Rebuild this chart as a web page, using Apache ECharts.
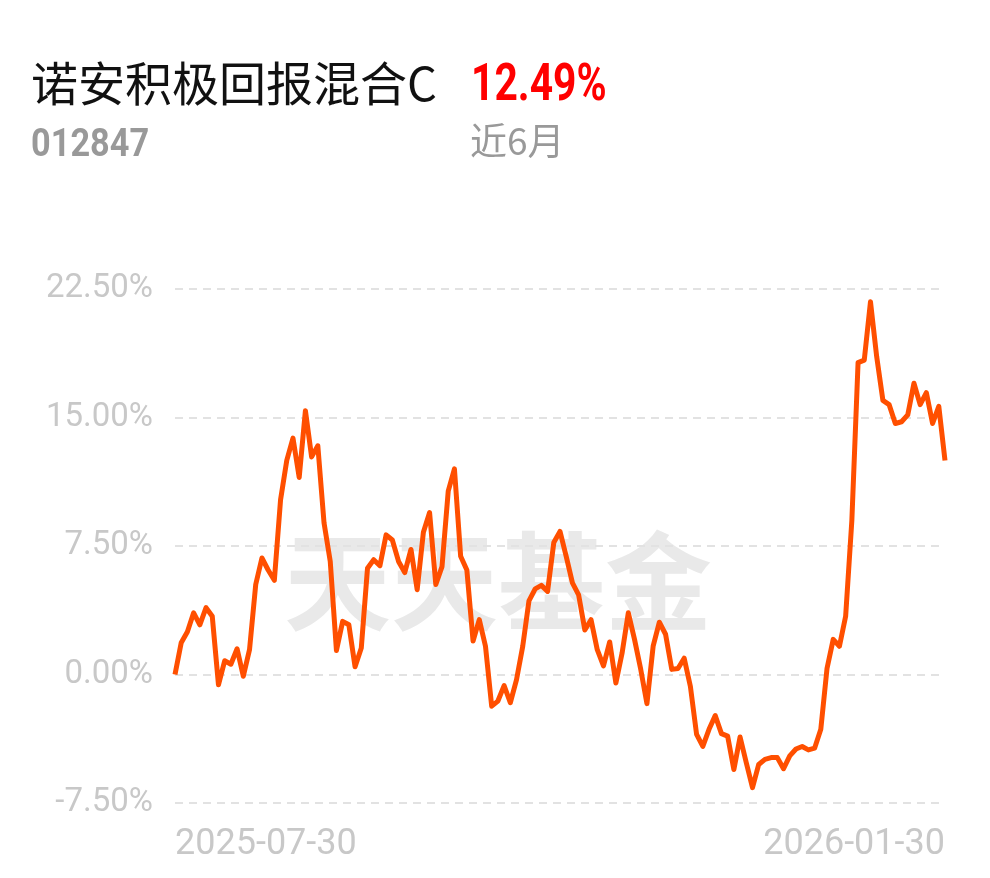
<!DOCTYPE html>
<html><head><meta charset="utf-8">
<script src="https://cdn.jsdelivr.net/npm/echarts@6/dist/echarts.min.js"></script>
<style>html,body{margin:0;padding:0;background:#fff}#c{width:990px;height:878px}</style>
</head><body><div id="c"></div>
<script>
const fundName = '诺安积极回报混合C';
const fundCode = '012847';
const periodReturn = '12.49%';
const periodLabel = '近6月';
const yTicks = [-7.5, 0, 7.5, 15, 22.5];
const startDate = '2025-07-30';
const endDate = '2026-01-30';
const holidays = ['2025-10-01','2025-10-02','2025-10-03','2025-10-06','2025-10-07','2025-10-08','2026-01-01','2026-01-02'];
const returns = [
  0.00, 1.85, 2.5, 3.6, 2.9, 3.9, 3.4, -0.6, 0.8, 0.6,
  1.5, -0.1, 1.45, 5.25, 6.8, 6.1, 5.5, 10.2, 12.5, 13.8,
  11.5, 15.4, 12.7, 13.35, 8.85, 6.6, 1.4, 3.1, 2.9, 0.45,
  1.55, 6.2, 6.7, 6.35, 8.15, 7.85, 6.6, 5.95, 7.3, 4.95,
  8.3, 9.45, 5.25, 6.3, 10.7, 12.0, 6.9, 6.1, 1.95, 3.2,
  1.65, -1.85, -1.55, -0.65, -1.65, -0.3, 1.65, 4.3, 5.0, 5.2,
  4.85, 7.7, 8.35, 6.9, 5.35, 4.65, 2.6, 3.2, 1.45, 0.5,
  1.9, -0.5, 1.25, 3.6, 2.05, 0.3, -1.7, 1.65, 3.05, 2.35,
  0.3, 0.35, 0.95, -0.7, -3.5, -4.2, -3.2, -2.4, -3.45, -3.6,
  -5.55, -3.65, -5.15, -6.6, -5.25, -4.95, -4.85, -4.85, -5.5, -4.75,
  -4.35, -4.2, -4.4, -4.3, -3.2, 0.35, 2.05, 1.65, 3.4, 9.0,
  18.2, 18.35, 21.75, 18.55, 16.0, 15.75, 14.65, 14.75, 15.15, 17.0,
  15.75, 16.45, 14.65, 15.65, 12.49
];
// trading-day categories
const dates = [];
(function(){
  const d = new Date(startDate + 'T00:00:00Z');
  const end = new Date(endDate + 'T00:00:00Z');
  while (d <= end) {
    const s = d.toISOString().slice(0,10);
    const wd = d.getUTCDay();
    if (wd !== 0 && wd !== 6 && holidays.indexOf(s) < 0) dates.push(s);
    d.setUTCDate(d.getUTCDate() + 1);
  }
})();
const n = Math.min(dates.length, returns.length);
const cats = dates.slice(0, n);
cats[n-1] = endDate;

const chart = echarts.init(document.getElementById('c'));
chart.setOption({
  animation: false,
  backgroundColor: '#fff',
  graphic: [
    {type:'text', x: 31, y: 60, style:{text: fundName, font: 'normal 47px "Noto Sans CJK SC"', fill:'#111'}},
    {type:'text', x: 471, y: 62, scaleX: 0.8, style:{text: periodReturn, font: 'bold 51px Roboto', fill:'#ff0000'}},
    {type:'text', x: 31, y: 127, scaleX: 0.88, style:{text: fundCode, font: 'bold 39px Roboto', fill:'#999'}},
    {type:'text', x: 470, y: 122, style:{text: periodLabel, font: 'normal 37px "Noto Sans CJK SC"', fill:'#999'}},
    {type:'text', x: 284, y: 528, z: 0, style:{text: '天天基金', font: 'bold 107px "Noto Sans CJK SC"', fill:'#e9e9e9'}}
  ],
  grid: {left: 175, right: 45, top: 289, bottom: 75, containLabel: false},
  xAxis: {
    type: 'category',
    data: cats,
    boundaryGap: false,
    axisLine: {show: false},
    axisTick: {show: false},
    axisLabel: {
      interval: function(i){ return i === 0 || i === n-1; },
      alignMinLabel: 'left', alignMaxLabel: 'right',
      color: '#c8c8c8', fontSize: 36, margin: 24,
      fontFamily: 'Roboto'
    },
    splitLine: {show: false}
  },
  yAxis: {
    type: 'value',
    min: yTicks[0], max: yTicks[yTicks.length-1], interval: 7.5,
    axisLine: {show: false}, axisTick: {show: false},
    axisLabel: {
      formatter: function(v){ return v.toFixed(2) + '%'; },
      color: '#c8c8c8', fontSize: 33, margin: 22, fontFamily: 'Roboto'
    },
    splitLine: {lineStyle: {color: '#e2e2e2', type: [8, 6], width: 2}}
  },
  series: [{
    type: 'line',
    data: returns.slice(0, n),
    showSymbol: false,
    smooth: false,
    z: 5,
    lineStyle: {color: '#ff4f00', width: 5, join: 'round'}
  }]
});
</script></body></html>
